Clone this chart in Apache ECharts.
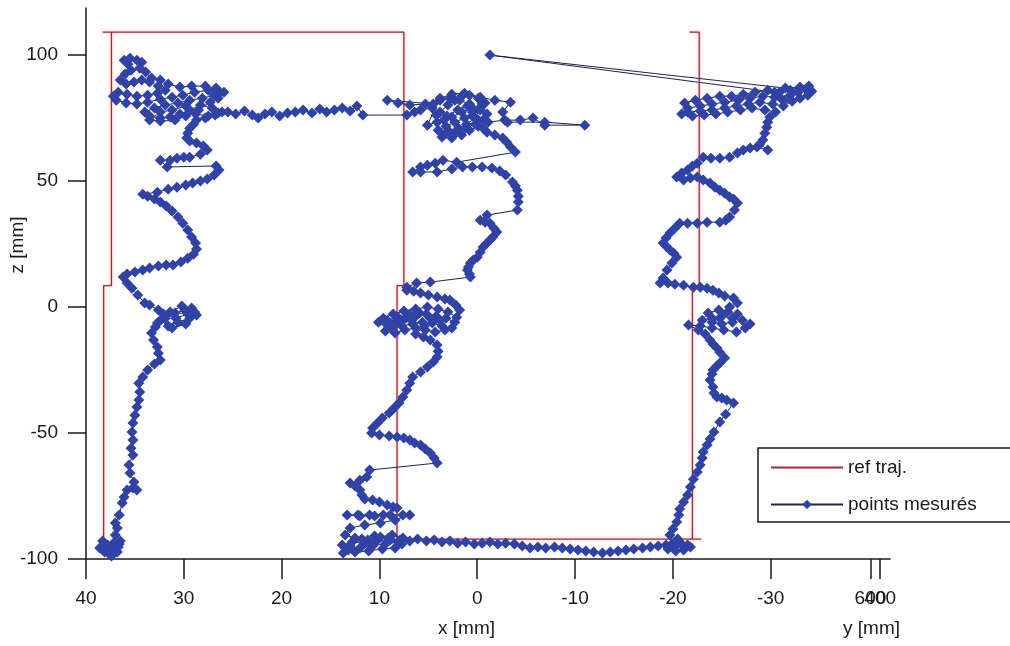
<!DOCTYPE html>
<html>
<head>
<meta charset="utf-8">
<script src="https://cdn.jsdelivr.net/npm/echarts@6/dist/echarts.min.js"></script>
<style>
  html, body { margin: 0; padding: 0; background: #fff; }
  #chart { width: 1010px; height: 646px; }
</style>
</head>
<body>
<div id="chart"></div>
<script>
// reference trajectory (x [mm], z [mm])
const refX = [38.2, 38.2, 37.4, 37.4, 38.3, 7.5, 7.5, 8.2, 8.2, -22.9, -22.0, -22.0, -22.7, -22.7, -21.7]
const refZ = [-93, 8.5, 8.5, 109.1, 109.1, 109.1, 8.5, 8.5, -92.1, -92.1, -92.1, 8.5, 8.5, 109.1, 109.1]

const measuredLeft = [
  [37.5,-95.6],[38.3,-92.9],[37.8,-94.4],[37.2,-93.7],[36.7,-95.2],[37.0,-96.8],[37.5,-98.4],[38.1,-97.2],
  [38.6,-95.6],[38.0,-94.8],[37.3,-96.0],[36.5,-92.9],[36.8,-97.2],[37.4,-98.8],[37.8,-96.4],[37.1,-94.8],[36.6,-94.0],
  [37.0,-90.5],[36.8,-87.7],[37.0,-85.7],[36.6,-82.5],[36.3,-77.8],[36.1,-75.4],[35.8,-72.6],[35.2,-71.8],
  [34.8,-72.6],[35.1,-69.4],[35.5,-65.9],[35.6,-62.7],[35.2,-58.7],[35.4,-56.0],[35.2,-52.8],[35.3,-49.6],
  [35.2,-46.0],[35.0,-42.9],[34.8,-39.7],[34.6,-36.9],[34.5,-33.7],[34.6,-30.2],[34.2,-27.8],[33.7,-25.0],
  [33.0,-22.6],[32.4,-21.0],[32.6,-18.3],[32.7,-15.9],[33.1,-13.1],[33.3,-10.3],[32.9,-7.9],[32.7,-6.3],
  [31.9,-4.4],[30.9,-2.4],[29.9,-1.2],[28.9,-2.0],[29.4,-4.4],[30.6,-6.0],[31.6,-7.5],[32.4,-5.2],[31.4,-2.0],
  [30.2,0.4],[29.2,-0.4],[28.7,-3.2],[29.8,-6.7],[31.2,-8.3],[32.1,-2.8],[30.8,-4.4],[29.6,-2.8],[32.6,-1.2],
  [33.5,0.8],[34.0,1.6],[34.7,4.8],[35.3,7.5],[35.8,9.5],[36.2,11.9],[35.8,13.1],[35.0,13.9],[34.2,14.7],
  [33.5,15.5],[32.6,16.3],[31.8,16.7],[31.1,16.7],[30.3,17.9],[29.6,19.4],[29.0,21.0],[28.7,23.0],[28.8,25.4],
  [29.2,27.8],[29.6,30.6],[30.1,33.3],[30.6,35.7],[31.2,38.1],[31.8,40.1],[32.4,41.7],[33.0,42.9],[33.7,44.0],
  [34.2,44.8],[32.7,45.6],[31.6,46.8],[30.7,47.6],[29.8,48.4],[29.1,49.2],[28.3,50.0],[27.6,50.8],[26.9,52.4],
  [26.4,54.4],[26.7,56.0],[31.7,55.6],[32.4,58.3],[31.4,58.3],[30.7,59.1],[30.0,59.5],[29.4,59.5],[28.3,60.7],
  [27.6,62.3],[28.0,63.9],[28.7,65.1],[29.4,65.9],[29.7,67.1],[29.6,69.0],[29.4,71.0],[29.0,72.6],[28.7,74.2]
]
const measuredLeftTop = [
  [27.8,75.0],[26.8,76.2],[26.1,77.4],[27.1,79.0],[28.3,80.2],[29.4,78.2],[30.4,76.6],[31.4,75.4],[32.4,75.0],
  [33.5,75.8],[34.0,77.4],[33.0,79.0],[31.9,80.2],[30.6,81.0],[29.4,82.1],[28.1,82.9],[26.9,84.1],[26.3,85.3],
  [27.5,86.1],[28.9,85.3],[30.1,84.1],[31.2,83.3],[32.4,82.5],[33.7,81.3],[34.8,80.6],[35.9,81.0],[36.9,82.1],
  [37.2,83.7],[36.7,85.3],[35.8,84.5],[34.8,83.7],[33.7,84.1],[32.7,84.9],[31.9,86.1],[32.6,87.7],[33.5,89.3],
  [34.3,90.1],[35.1,89.3],[35.9,88.5],[36.5,90.1],[36.0,92.5],[35.4,94.0],[35.7,96.4],[36.1,98.0],[35.5,98.8],
  [34.8,98.0],[34.3,97.2],[34.5,94.8],[33.9,93.3],[33.3,90.9],[32.4,90.1],[31.6,88.5],[30.4,87.3],[29.2,87.7],
  [27.8,87.7],[26.7,86.9],[25.9,85.3],[26.5,82.9],[27.3,81.3],[28.5,78.2],[29.8,75.8],[30.9,74.2],[32.4,73.8],
  [33.5,74.2],[32.4,77.4],[31.2,78.2],[29.8,79.8],[28.8,76.6],[27.5,75.8],[26.5,77.0]
]
const measuredTop = [
  [25.5,77.4],[24.7,76.6],[23.8,77.8],[23.0,76.2],[22.4,75.0],[21.7,76.6],[21.0,77.4],[20.2,75.8],[19.4,77.0],
  [18.6,77.4],[17.8,78.2],[16.9,77.0],[16.1,78.6],[15.4,77.4],[14.6,78.2],[13.8,79.0],[13.0,77.8],[12.3,79.8],
  [11.7,76.2],[7.2,76.2]
]
const measuredMiddleTop = [
  [6.4,77.4],[5.8,78.2],[4.6,79.0],[3.8,77.4],[3.0,80.2],[2.3,82.1],[1.6,83.7],[0.8,84.1],[-0.1,82.9],
  [-0.8,81.0],[-0.3,79.0],[0.5,77.4],[1.3,75.0],[2.3,73.4],[3.2,71.8],[4.0,70.2],[3.3,68.7],[2.3,69.4],
  [1.2,71.0],[0.2,72.6],[-0.6,74.2],[-1.0,76.6],[-0.3,78.2],[0.8,80.6],[1.8,82.1],[2.8,82.9],[3.8,82.1],
  [4.5,80.6],[9.2,82.1],[8.1,81.0],[6.9,80.2],[5.3,80.6],[4.2,76.2],[3.4,74.2],[2.6,75.4],[1.6,77.4],
  [0.5,79.0],[-0.5,80.6],[0.2,75.0],[1.1,72.6],[1.9,71.0],[2.8,69.4],[3.6,67.5],[2.6,67.1],[1.6,68.3],
  [0.8,70.2],[-0.1,71.8],[-1.1,73.4],[-2.8,74.2],[-4.4,74.2],[-5.7,75.0],[-6.9,72.2],[-11.0,72.2],[-6.9,73.4],
  [-3.1,73.4],[-2.6,77.4],[-3.4,81.3],[-1.8,82.1],[-0.3,83.3],[1.3,84.9],[2.6,84.5],[3.8,82.9],[5.1,72.2],
  [4.1,73.4],[3.1,75.8],[2.0,78.2],[1.0,79.8],[0.5,75.8],[-0.1,74.2],[-0.6,71.0]
]
const measuredMiddle = [
  [-1.0,69.4],[-1.8,68.3],[-2.6,67.1],[-3.0,65.5],[-3.4,63.5],[-3.9,61.5],[2.1,57.5],[3.5,58.3],[4.3,57.1],
  [5.1,56.3],[5.8,55.6],[6.6,53.6],[5.8,53.6],[4.1,53.6],[2.6,54.8],[1.5,55.6],[0.5,55.6],[-0.5,55.6],
  [-1.5,55.2],[-2.3,54.0],[-2.9,52.4],[-3.6,49.6],[-3.9,48.0],[-4.1,46.4],[-4.2,44.0],[-4.2,41.7],[-4.1,38.5],
  [-1.0,36.5],[-0.3,34.5],[-0.8,33.7],[-1.3,33.3],[-1.7,31.3],[-2.0,29.8],[-1.6,27.8],[-1.3,26.6],[-0.9,25.0],
  [-0.6,23.8],[-0.3,21.8],[0.0,19.8],[0.4,18.7],[0.7,17.5],[0.9,15.9],[1.0,14.7],[0.8,13.1],[0.7,11.9],
  [4.8,9.9],[6.2,9.5],[7.2,7.9],[7.2,6.7],[6.5,6.3],[5.8,5.6],[5.0,4.8],[4.1,4.0],[3.3,3.2],[2.8,2.8],
  [2.2,0.8],[1.8,-1.2],[2.1,-4.0],
  [3.0,-2.0],[4.0,-0.8],[5.1,0.0],[6.3,-0.8],[7.5,-1.6],[8.6,-2.8],[9.6,-4.4],[10.1,-6.0],[9.3,-6.7],
  [8.3,-5.6],[7.3,-4.4],[6.3,-3.6],[5.2,-2.8],[4.2,-3.6],[3.2,-4.4],[2.3,-6.0],[2.6,-8.3],[3.6,-7.5],
  [4.6,-6.3],[5.6,-6.0],[6.6,-6.7],[7.7,-7.5],[8.7,-8.3],[9.4,-9.5],[8.4,-10.3],[7.4,-9.1],[6.3,-8.3],
  [5.3,-9.1],[4.3,-9.9],[3.3,-9.1],[3.8,-5.2],[4.8,-4.4],[5.9,-2.4],[6.9,-2.8],[8.1,-4.0],[9.2,-5.2],
  [7.9,-6.0],[6.7,-5.2],[5.4,-7.5],[6.3,-10.7],[5.5,-11.9],
  [4.8,-13.1],[4.1,-15.1],[4.0,-17.5],[4.1,-19.8],[4.5,-21.8],[5.1,-23.8],[5.8,-25.8],[6.6,-27.8],[6.9,-30.2],
  [7.2,-32.9],[7.6,-35.7],[8.0,-38.1],[8.5,-40.1],[9.0,-42.1],[9.7,-44.0],[10.2,-46.0],[10.7,-48.0],[10.8,-50.0],
  [10.0,-50.8],[9.0,-51.2],[8.2,-51.6],[7.5,-52.0],[6.9,-52.8],[6.4,-54.0],[5.8,-54.8],[5.3,-56.3],[4.8,-57.9],
  [4.4,-59.9],[4.1,-61.9],[11.0,-64.7],[11.3,-67.5],[12.0,-68.7],[13.0,-69.8],[12.5,-71.0],[12.0,-72.6],
  [11.8,-74.6],[11.5,-76.2],[10.7,-76.6],[10.0,-77.4],[9.2,-78.6],[8.6,-79.4],[8.2,-79.8],[9.6,-82.5],
  [11.0,-82.5],[12.2,-82.5],[13.3,-82.5],[12.0,-82.9],[10.5,-82.9],[8.9,-82.5],[7.6,-82.5],[6.9,-82.5],
  [8.4,-84.5],[9.9,-85.7],[11.5,-86.5],[13.0,-87.7],
  [13.5,-90.5],[12.5,-91.7],[11.2,-92.5],[9.9,-91.3],[8.7,-90.5],[7.6,-91.7],[8.1,-93.3],[9.4,-94.0],
  [10.7,-94.8],[12.0,-95.6],[13.2,-96.4],[13.8,-94.4],[12.8,-93.3],[11.5,-93.7],[10.3,-92.9],[8.9,-92.5],
  [7.7,-94.0],[8.4,-95.6],[9.7,-96.0],[11.1,-96.8],[12.5,-97.2],[13.7,-97.6],[13.0,-94.8],[11.8,-92.1],
  [10.5,-90.9],[9.1,-91.7],[7.9,-92.5],[6.9,-92.9]
]
const measuredBottom = [
  [6.1,-92.1],[5.2,-92.9],[4.4,-92.5],[3.6,-93.3],[2.8,-92.9],[2.0,-93.7],[1.2,-93.3],[0.3,-94.0],[-0.5,-93.7],
  [-1.3,-93.3],[-2.1,-94.0],[-2.9,-93.7],[-3.8,-94.0],[-4.6,-94.8],[-5.4,-95.6],[-6.2,-95.2],[-7.0,-95.6],
  [-7.9,-95.2],[-8.7,-95.6],[-9.5,-96.0],[-10.3,-96.4],[-11.1,-96.8],[-11.9,-97.2],[-12.8,-97.6],[-13.6,-97.2],
  [-14.4,-96.8],[-15.2,-96.4],[-16.0,-96.0],[-16.9,-95.6],[-17.7,-95.2],[-18.5,-94.8],[-19.3,-94.4]
]
const measuredRight = [
  [-20.1,-95.2],[-20.9,-94.4],[-21.8,-95.2],[-21.1,-96.4],[-20.3,-96.8],[-19.5,-96.0],[-19.9,-94.0],
  [-20.7,-93.3],[-21.5,-94.4],[-20.5,-92.1],
  [-19.7,-90.5],[-20.0,-88.1],[-20.4,-85.3],[-20.6,-82.5],[-20.7,-80.2],[-21.1,-77.4],[-21.5,-74.6],
  [-21.8,-71.4],[-22.1,-68.3],[-22.5,-65.5],[-22.8,-62.7],[-23.0,-59.9],[-23.1,-57.5],[-23.5,-54.8],
  [-23.8,-52.4],[-24.2,-49.6],[-24.8,-45.6],[-25.4,-42.5],[-26.2,-38.1],[-25.5,-36.9],[-25.0,-36.1],
  [-24.5,-35.7],[-24.2,-34.1],[-24.1,-31.7],[-23.8,-29.0],[-24.0,-26.6],[-24.1,-25.0],[-24.5,-23.4],
  [-24.8,-22.2],[-25.3,-20.2],[-24.8,-17.9],[-24.5,-16.3],[-24.1,-14.7],[-23.8,-13.1],
  [-23.3,-10.7],[-22.6,-9.1],[-21.6,-7.1],[-22.8,-7.5],[-24.0,-8.3],[-25.2,-9.1],[-26.5,-9.9],[-27.4,-8.3],
  [-27.9,-6.7],[-27.1,-5.2],[-26.1,-4.4],[-25.0,-3.6],[-24.0,-4.4],[-23.0,-5.2],[-23.6,-2.4],[-24.7,-1.2],
  [-25.6,-2.0],[-26.6,-2.8],[-26.1,-6.0],[-25.0,-6.7],[-24.0,-6.0],[-24.8,-4.4],[-25.8,0.0],[-26.6,1.6],
  [-26.2,3.6],[-25.3,4.4],[-24.7,5.6],[-24.1,6.7],[-23.5,7.5],[-22.8,7.9],[-22.1,7.9],[-21.1,8.7],
  [-20.2,9.1],[-19.5,9.5],[-18.7,9.5],[-19.0,11.5],[-19.4,14.7],[-19.9,17.5],[-20.4,19.8],[-20.1,21.4],
  [-19.7,22.6],[-19.3,24.2],[-19.0,25.4],[-19.3,27.4],[-19.7,29.4],[-20.2,31.3],[-20.7,33.3],[-21.5,33.3],
  [-22.5,33.3],[-23.5,33.7],[-24.8,33.7],[-25.4,34.5],[-25.8,35.7],[-26.3,38.5],[-26.6,41.3],[-26.2,42.9],
  [-25.8,43.7],[-25.3,45.2],[-24.8,46.4],[-24.3,47.6],[-23.8,49.2],[-23.1,50.4],[-22.5,51.6],[-21.8,51.2],
  [-21.1,50.4],[-20.4,51.6],[-20.9,53.2],[-21.5,54.4],[-22.0,56.0],[-22.5,57.1],[-23.1,59.5],[-23.9,59.1],
  [-24.8,59.1],[-25.8,59.5],[-26.6,61.1],[-27.2,62.3],[-27.9,63.1],[-28.6,63.5],[-29.7,62.3],[-28.9,64.7],
  [-29.2,66.3],[-29.4,69.0],[-29.6,71.4],[-29.7,73.4],[-29.9,75.4]
]
const measuredRightTop = [
  [-30.5,77.4],[-29.4,78.2],[-28.1,79.0],[-26.9,78.2],[-25.6,77.4],[-24.4,76.6],[-23.2,76.2],[-22.0,75.8],
  [-20.9,76.6],[-21.5,79.0],[-22.8,79.8],[-24.0,80.6],[-25.3,81.3],[-26.7,82.1],[-27.9,82.9],[-29.2,83.7],
  [-30.4,83.3],[-31.4,82.1],[-32.0,84.1],[-32.8,85.3],[-33.6,86.5],[-34.2,85.7],[-33.8,84.1],[-33.0,82.9],
  [-32.2,81.7],[-31.3,79.8],[-30.2,80.6],[-28.9,81.3],[-27.7,80.6],[-26.5,79.8],[-25.3,79.0],[-24.0,78.2],
  [-22.8,77.8],[-21.5,77.4],[-21.2,81.0],[-22.3,82.1],[-23.5,82.9],[-24.8,83.7],[-26.0,83.7],[-27.2,84.5],
  [-28.4,85.3],[-29.7,86.1],[-30.9,85.3],[-32.0,86.1],[-33.0,87.3],[-33.9,87.7],[-31.5,86.9]
]
const measuredReturn = [[-1.3,100.0],[-30.4,85.3],[-31.0,83.0]]

const xTicks = [40, 30, 20, 10, 0, -10, -20, -30]
const yAxisTicks = [-40.2, -41.2, -42.2]      // ticks of the second "y [mm]" axis, squeezed at the end
const yAxisTickLabels = ['600', '400', '200']
const zTicks = [-100, -50, 0, 50, 100]

const refData = refX.map((x, i) => [x, refZ[i]])
const measuredData = [].concat(measuredLeft, measuredLeftTop, measuredTop, measuredMiddleTop,
  measuredMiddle, measuredBottom, measuredRight, measuredRightTop, measuredReturn)

const font = 'Liberation Sans, Arial, sans-serif'
const ink = '#1a1a1a'

const chart = echarts.init(document.getElementById('chart'), null, { renderer: 'canvas' })
chart.setOption({
  animation: false,
  backgroundColor: '#fff',
  textStyle: { fontFamily: font },
  grid: { left: 86, right: 120, top: 8, bottom: 87 },
  xAxis: {
    type: 'value',
    inverse: true,
    min: -42.2,
    max: 40,
    splitLine: { show: false },
    axisLine: { onZero: false, lineStyle: { color: ink, width: 1.5 } },
    axisTick: { customValues: xTicks.concat(yAxisTicks), length: 20, lineStyle: { color: ink, width: 1.5 } },
    axisLabel: {
      customValues: xTicks.concat(yAxisTicks),
      margin: 30,
      fontSize: 19,
      color: ink,
      fontFamily: font,
      formatter: (v) => {
        const k = yAxisTicks.indexOf(v)
        return k >= 0 ? yAxisTickLabels[k] : String(v)
      },
    },
  },
  yAxis: {
    type: 'value',
    min: -100,
    max: 118.7,
    splitLine: { show: false },
    axisLine: { onZero: false, lineStyle: { color: ink, width: 1.5 } },
    axisTick: { customValues: zTicks, length: 18, lineStyle: { color: ink, width: 1.5 } },
    axisLabel: { customValues: zTicks, margin: 28, fontSize: 19, color: ink, fontFamily: font },
  },
  legend: {
    orient: 'vertical',
    left: 758,
    top: 448,
    padding: [10, 60, 8, 12],
    itemWidth: 72,
    itemHeight: 12,
    itemGap: 18,
    borderColor: ink,
    borderWidth: 1.5,
    backgroundColor: '#fff',
    textStyle: { fontSize: 19, color: ink, fontFamily: font },
    data: [
      { name: 'ref traj.', itemStyle: { opacity: 0 } },
      { name: 'points mesurés' },
    ],
  },
  graphic: [
    { type: 'text', left: 438, top: 619, style: { text: 'x [mm]', fontSize: 19, fill: ink, fontFamily: font } },
    { type: 'text', left: 843, top: 619, style: { text: 'y [mm]', fontSize: 19, fill: ink, fontFamily: font } },
    {
      type: 'text', x: 18, y: 245, rotation: Math.PI / 2,
      style: { text: 'z [mm]', fontSize: 19, fill: ink, fontFamily: font, align: 'center', verticalAlign: 'middle' },
    },
  ],
  series: [
    {
      name: 'ref traj.',
      type: 'line',
      data: refData,
      symbol: 'none',
      lineStyle: { color: '#9e2c38', width: 1.3, shadowColor: 'rgba(235,130,130,0.8)', shadowBlur: 3 },
      itemStyle: { color: '#9e2c38', opacity: 0 },
      z: 2,
    },
    {
      name: 'points mesurés',
      type: 'line',
      data: measuredData,
      symbol: 'diamond',
      symbolSize: 11,
      showAllSymbol: true,
      lineStyle: { color: '#1b2456', width: 1 },
      itemStyle: { color: '#3142a6' },
      z: 3,
    },
  ],
})
</script>
</body>
</html>
